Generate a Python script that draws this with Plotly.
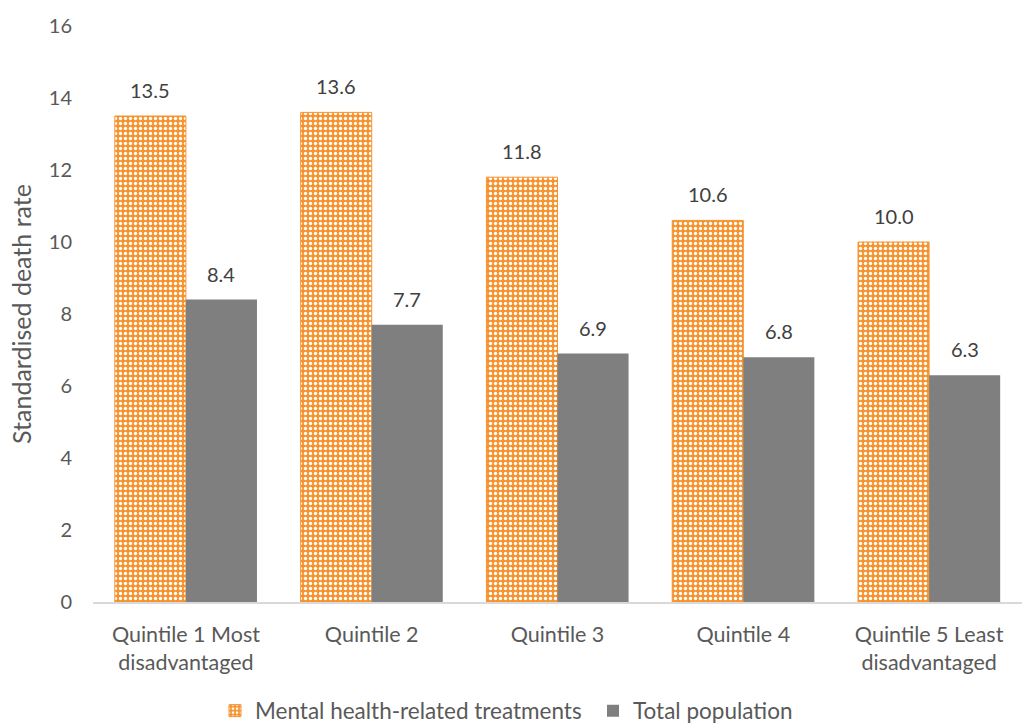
import plotly.graph_objects as go

categories = ["Quintile 1 Most<br>disadvantaged", "Quintile 2", "Quintile 3", "Quintile 4",
              "Quintile 5 Least<br>disadvantaged"]
mental_health = [13.5, 13.6, 11.8, 10.6, 10.0]
total_population = [8.4, 7.7, 6.9, 6.8, 6.3]

ORANGE = "#F7932F"
GREY = "#7F7F7F"
TEXT = "#595959"
LABEL = "#404040"
FONT = "Lato, Open Sans, sans-serif"

fig = go.Figure()
fig.add_trace(go.Bar(
    name="Mental health-related treatments",
    x=categories, y=mental_health,
    marker=dict(color=ORANGE,
                line=dict(color=ORANGE, width=1),
                pattern=dict(shape=".", fgcolor="white", bgcolor=ORANGE,
                             size=5, solidity=0.35, fillmode="replace")),
))
fig.add_trace(go.Bar(
    name="Total population",
    x=categories, y=total_population,
    marker=dict(color=GREY, line=dict(width=0)),
))

# value labels above each bar, offset to the left/right bar of each group
half_bar = 35.5
for values, shift in ((mental_health, -half_bar), (total_population, half_bar)):
    for cat, v in zip(categories, values):
        fig.add_annotation(x=cat, y=v, text=f"{v:.1f}", showarrow=False,
                           xshift=shift, yshift=26, yanchor="middle",
                           font=dict(size=20, color=LABEL, family=FONT))

fig.update_layout(
    width=1024, height=724,
    margin=dict(l=93, r=2, t=26, b=122, autoexpand=False),
    paper_bgcolor="white", plot_bgcolor="white",
    barmode="group", bargap=0.235, bargroupgap=0,
    font=dict(family=FONT, color=TEXT, size=20),
    showlegend=True,
    legend=dict(orientation="h", xref="container", yref="container",
                x=215 / 1024, xanchor="left", y=13 / 724, yanchor="middle",
                font=dict(size=22.5, color=TEXT), itemwidth=30,
                traceorder="normal", entrywidthmode="pixels", entrywidth=333),
)
fig.update_xaxes(showline=True, linecolor="#D9D9D9", linewidth=1.5, ticks="",
                 automargin=False, ticklabelstandoff=12,
                 tickfont=dict(size=21.5, color=TEXT))
fig.update_yaxes(range=[0, 16], dtick=2, showgrid=False, zeroline=False,
                 showline=False, ticks="", tickformat="d", automargin=False,
                 tickfont=dict(size=20, color=TEXT), ticklabelstandoff=20,
                 title=dict(text="Standardised death rate", font=dict(size=25, color=TEXT),
                            standoff=10))

fig.write_html("out.html")
